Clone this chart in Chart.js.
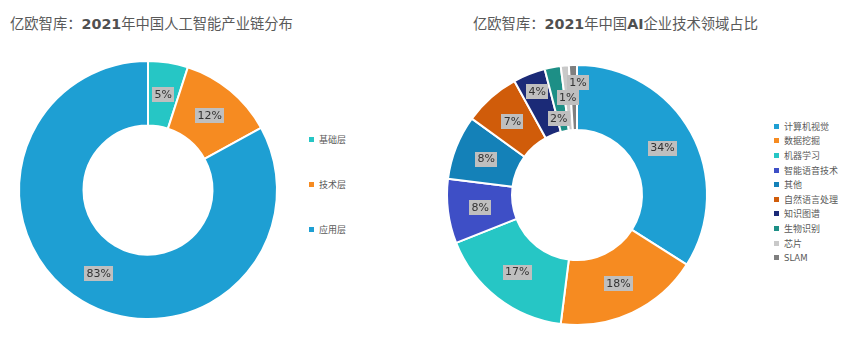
<!DOCTYPE html>
<html>
<head>
<meta charset="utf-8">
<script src="https://cdn.jsdelivr.net/npm/chart.js@4.4.1/dist/chart.umd.min.js"></script>
<style>
  html, body { margin: 0; padding: 0; background: #fff; }
  body { width: 847px; height: 344px; position: relative; overflow: hidden;
         font-family: "Noto Sans CJK SC", "DejaVu Sans", sans-serif; }
  .title { position: absolute; top: 12px; font-size: 14.3px; color: #595959; white-space: nowrap; line-height: 22px; }
  .title b { font-family: "DejaVu Sans", Verdana, sans-serif; font-weight: bold; color: #505050; }
  .chart-box { position: absolute; top: 0; width: 300px; height: 344px; }
  .legend { position: absolute; font-size: 9px; color: #595959; }
  .legend .item { display: flex; align-items: center; white-space: nowrap; }
  .legend .sw { width: 5px; height: 5px; margin-right: 5px; flex: none; }
  .legend .latin { font-family: "DejaVu Sans", Verdana, sans-serif; font-size: 8.5px; }
</style>
</head>
<body>

<div class="title" style="left:10px">亿欧智库：<b>2021</b>年中国人工智能产业链分布</div>
<div class="title" style="left:473px">亿欧智库：<b>2021</b>年中国<b>AI</b>企业技术领域占比</div>

<div class="chart-box" style="left:0"><canvas id="chainChart"></canvas></div>
<div class="chart-box" style="left:430px"><canvas id="techChart"></canvas></div>

<div class="legend" id="chainLegend" style="left:309px; top:117px"></div>
<div class="legend" id="techLegend" style="left:774px; top:119px"></div>

<script>
// ── data: industry chain (left) ──
const chainLabels = ['基础层', '技术层', '应用层'];
const chainValues = [5, 12, 83];
const chainColors = ['#26c6c5', '#f68b21', '#1e9fd3'];

// ── data: AI tech domains (right) ──
const techLabels = ['计算机视觉', '数据挖掘', '机器学习', '智能语音技术', '其他', '自然语言处理', '知识图谱', '生物识别', '芯片', 'SLAM'];
const techValues = [34, 18, 17, 8, 8, 7, 4, 2, 1, 1];
const techColors = ['#1e9fd3', '#f68b21', '#26c6c5', '#3e4fc6', '#1481b8', '#d05c0a', '#1b2a77', '#1d8f86', '#c9c9c9', '#7f7f7f'];

// ── percentage boxes drawn on each slice ──
const sliceLabels = {
  id: 'sliceLabels',
  afterDatasetsDraw(chart, args, opts) {
    const { ctx } = chart;
    const meta = chart.getDatasetMeta(0);
    const values = chart.data.datasets[0].data;
    const nudge = opts.nudge || {};
    ctx.save();
    ctx.font = '11px "DejaVu Sans", Verdana, sans-serif';
    ctx.textAlign = 'center';
    ctx.textBaseline = 'middle';
    meta.data.forEach((arc, i) => {
      const p = arc.tooltipPosition();
      const [dx, dy] = nudge[i] || [0, 0];
      const x = p.x + dx, y = p.y + dy;
      const txt = values[i] + '%';
      const w = ctx.measureText(txt).width + 5;
      const h = 15;
      ctx.fillStyle = '#bfbfbf';
      ctx.fillRect(Math.round(x - w / 2), Math.round(y - h / 2), Math.round(w), h);
      ctx.fillStyle = '#333';
      ctx.fillText(txt, x, y + 0.5);
    });
    ctx.restore();
  }
};

function ringOptions(padding, nudge) {
  return {
    responsive: true,
    maintainAspectRatio: false,
    animation: false,
    cutout: '50%',
    layout: { padding },
    plugins: {
      legend: { display: false },
      tooltip: { enabled: false },
      sliceLabels: { nudge }
    }
  };
}

new Chart(document.getElementById('chainChart'), {
  type: 'doughnut',
  data: {
    labels: chainLabels,
    datasets: [{ data: chainValues, backgroundColor: chainColors, borderColor: '#fff', borderWidth: 2 }]
  },
  options: ringOptions({ left: 18, right: 22, top: 60, bottom: 24 }, {}),
  plugins: [sliceLabels]
});

new Chart(document.getElementById('techChart'), {
  type: 'doughnut',
  data: {
    labels: techLabels,
    datasets: [{ data: techValues, backgroundColor: techColors, borderColor: '#fff', borderWidth: 2 }]
  },
  options: ringOptions({ left: 16, right: 22, top: 64, bottom: 18 }, { 6: [-4, -13], 7: [0, 19], 9: [4, -15] }),
  plugins: [sliceLabels]
});

// ── legends ──
function buildLegend(el, labels, colors, rowHeight) {
  labels.forEach((label, i) => {
    const row = document.createElement('div');
    row.className = 'item';
    row.style.height = rowHeight + 'px';
    const latin = /^[A-Za-z]+$/.test(label);
    row.innerHTML = `<span class="sw" style="background:${colors[i]}"></span><span class="${latin ? 'latin' : ''}">${label}</span>`;
    el.appendChild(row);
  });
}
buildLegend(document.getElementById('chainLegend'), chainLabels, chainColors, 45);
buildLegend(document.getElementById('techLegend'), techLabels, techColors, 14.6);
</script>
</body>
</html>
